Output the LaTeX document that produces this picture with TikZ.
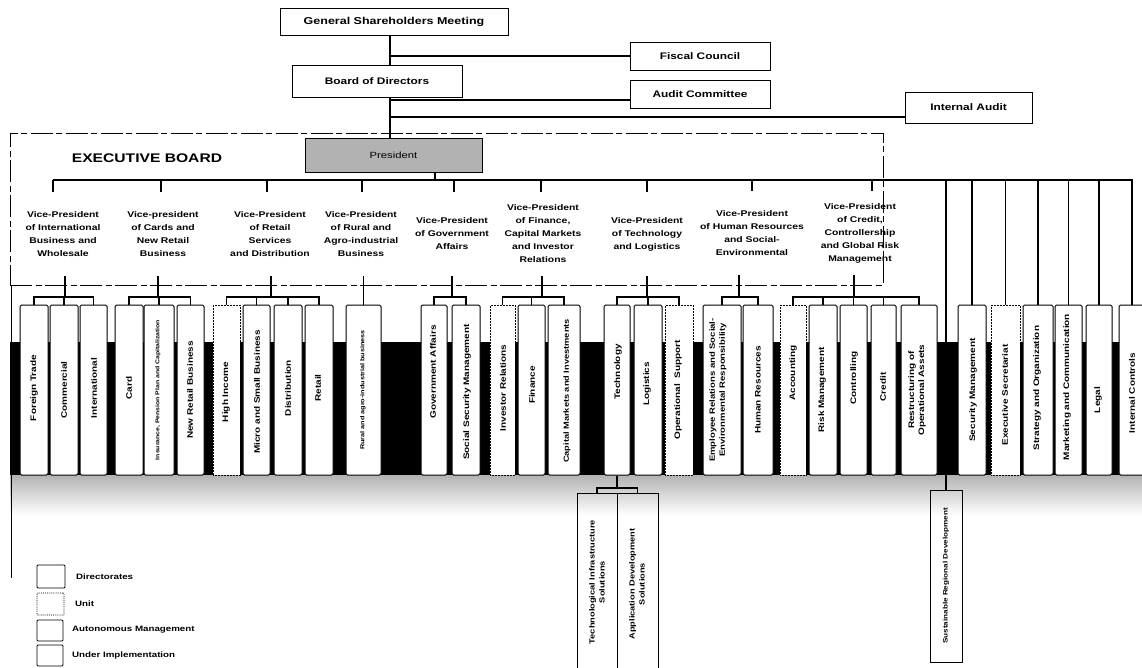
\documentclass[tikz,border=0pt]{standalone}
\usepackage{fontspec}
\setmainfont{Liberation Sans}[FakeStretch=1.25]
\begin{document}
\begin{tikzpicture}[x=1pt,y=-1pt,
  conn/.style={line width=1.2pt},
  topbox/.style={draw, line width=0.9pt, inner sep=0pt, font=\bfseries\fontsize{9.5}{11}\selectfont},
  dbox/.style={draw, line width=1pt, fill=white, rounded corners=1.5pt, minimum height=170pt, inner sep=0pt},
  ubox/.style={draw, densely dotted, line width=0.5pt, fill=white, minimum height=170pt, inner sep=0pt},
  vlbl/.style={rotate=90, font=\bfseries\fontsize{8}{10}\selectfont, align=center, inner sep=0pt},
  vptext/.style={font=\bfseries\fontsize{8.3}{13}\selectfont, align=center, minimum height=84pt, inner sep=0pt},
  legbox/.style={draw, line width=0.9pt, rounded corners=1pt, inner sep=0pt},
  legtext/.style={anchor=west, font=\bfseries\fontsize{7.8}{9}\selectfont, inner sep=0pt},
  execbox/.style={draw, dash pattern=on 22pt off 4pt on 6pt off 3pt, line width=0.8pt, inner sep=0pt}
]
\useasboundingbox (0,0) rectangle (1142,667);

% ---------- background band and scan shading ----------
\fill[black] (10,342) rectangle (1142,475);
\shade[top color=gray!60, bottom color=white] (10,475) rectangle (1142,515);

% ---------- top governance ----------
\node[topbox, minimum width=228pt, minimum height=27pt, font=\bfseries\fontsize{10}{12}\selectfont] (gsm) at (394,21.5) {General Shareholders Meeting};
\node[topbox, minimum width=140pt, minimum height=28pt] (fc) at (700,56) {Fiscal Council};
\node[topbox, minimum width=170pt, minimum height=32pt] (board) at (377,81) {Board of Directors};
\node[topbox, minimum width=140pt, minimum height=28pt] (ac) at (700,94) {Audit Committee};
\node[topbox, minimum width=127pt, minimum height=31pt] (ia) at (968.5,107.5) {Internal Audit};

% ---------- executive board ----------
\node[execbox, minimum width=873pt, minimum height=152pt] (exec) at (446.5,209) {};
\node[font=\bfseries\fontsize{12.5}{14}\selectfont, inner sep=0pt] (eb) at (147,158) {EXECUTIVE BOARD};
\node[draw, line width=0.8pt, fill=gray!60, minimum width=177pt, minimum height=34pt, inner sep=0pt, font=\fontsize{9}{11}\selectfont] (pres) at (393.5,155) {President};

\coordinate (trk) at (390,0);
\coordinate (busL) at (53,180);
\coordinate (busR) at (1132,180);

% ---------- vice-presidents ----------
\node[vptext] (vp1) at (63,234) {Vice-President\\of International\\Business and\\Wholesale};
\node[vptext] (vp2) at (163,234) {Vice-president\\of Cards and\\New Retail\\Business};
\node[vptext] (vp3) at (270,234) {Vice-President\\of Retail\\Services\\and Distribution};
\node[vptext] (vp4) at (361,234) {Vice-President\\of Rural and\\Agro-industrial\\Business};
\node[vptext] (vp5) at (452,234) {Vice-President\\of Government\\Affairs};
\node[vptext] (vp6) at (543,234) {Vice-President\\of Finance,\\Capital Markets\\and Investor\\Relations};
\node[vptext] (vp7) at (647,234) {Vice-President\\of Technology\\and Logistics};
\node[vptext] (vp8) at (752,233) {Vice-President\\of Human Resources\\and Social-\\Environmental};
\node[vptext] (vp9) at (860,233) {Vice-President\\of Credit,\\Controllership\\and Global Risk\\Management};

% ---------- directorate / unit boxes ----------
\node[dbox, minimum width=28pt] (ft) at (34,390) {};
\node[dbox, minimum width=28pt] (com) at (64,390) {};
\node[dbox, minimum width=27pt] (intl) at (93.5,390) {};
\node[dbox, minimum width=28pt] (card) at (129,390) {};
\node[dbox, minimum width=30pt] (ins) at (159,390) {};
\node[dbox, minimum width=27pt] (nrb) at (190.5,390) {};
\node[ubox, minimum width=27pt] (hi) at (226.5,390) {};
\node[dbox, minimum width=27pt] (msb) at (256.5,390) {};
\node[dbox, minimum width=28pt] (dist) at (288,390) {};
\node[dbox, minimum width=28pt] (ret) at (319,390) {};
\node[dbox, minimum width=35pt] (rur) at (363.5,390) {};
\node[dbox, minimum width=26pt] (gov) at (434,390) {};
\node[dbox, minimum width=28pt] (ssm) at (466,390) {};
\node[ubox, minimum width=25pt] (ir) at (502.5,390) {};
\node[dbox, minimum width=27pt] (fin) at (531.5,390) {};
\node[dbox, minimum width=32pt] (cap) at (564,390) {};
\node[dbox, minimum width=26pt] (tech) at (617,390) {};
\node[dbox, minimum width=28pt] (log) at (648,390) {};
\node[ubox, minimum width=28pt] (ops) at (679,390) {};
\node[dbox, minimum width=38pt] (emp) at (722,390) {};
\node[dbox, minimum width=30pt] (hr) at (758,390) {};
\node[ubox, minimum width=26pt] (acc) at (793,390) {};
\node[dbox, minimum width=28pt] (risk) at (823,390) {};
\node[dbox, minimum width=27pt] (ctrl) at (853.5,390) {};
\node[dbox, minimum width=25pt] (cred) at (883.5,390) {};
\node[dbox, minimum width=36pt] (rest) at (919,390) {};
\node[dbox, minimum width=28pt] (sec) at (972,390) {};
\node[ubox, minimum width=29pt] (exs) at (1005.5,390) {};
\node[dbox, minimum width=30pt] (strat) at (1038,390) {};
\node[dbox, minimum width=27pt] (mkt) at (1068.5,390) {};
\node[dbox, minimum width=26pt] (legal) at (1099,390) {};
\node[dbox, minimum width=26pt] (ic) at (1132,390) {};

% sub-units below
\node[draw, line width=1pt, minimum width=40pt, minimum height=177pt, inner sep=0pt] (tis) at (597,581.5) {};
\node[draw, line width=1pt, minimum width=41pt, minimum height=177pt, inner sep=0pt] (ads) at (637.5,581.5) {};
\node[draw, line width=1pt, minimum width=32pt, minimum height=172pt, inner sep=0pt] (srd) at (946,576) {};

% ---------- box labels ----------
\node[vlbl] (l-ft) at (34,388) {Foreign Trade};
\node[vlbl] (l-com) at (64,390) {Commercial};
\node[vlbl] (l-intl) at (94,388) {International};
\node[vlbl] (l-card) at (129,388) {Card};
\node[vlbl, font=\bfseries\fontsize{5.5}{6.5}\selectfont] (l-ins) at (158,390) {Insurance, Pension Plan and Capitalization};
\node[vlbl] (l-nrb) at (190,390) {New Retail Business};
\node[vlbl] (l-hi) at (226,392) {High Income};
\node[vlbl] (l-msb) at (257,392) {Micro and Small Business};
\node[vlbl] (l-dist) at (288,388) {Distribution};
\node[vlbl] (l-ret) at (318,388) {Retail};
\node[vlbl, font=\bfseries\fontsize{5.8}{7}\selectfont] (l-rur) at (363,390) {Rural and agro-industrial business};
\node[vlbl] (l-gov) at (433,372) {Government Affairs};
\node[vlbl] (l-ssm) at (467,392) {Social Security Management};
\node[vlbl] (l-ir) at (503,388) {Investor Relations};
\node[vlbl] (l-fin) at (532,385) {Finance};
\node[vlbl, font=\bfseries\fontsize{7.4}{9}\selectfont] (l-cap) at (567,391) {Capital Markets and Investments};
\node[vlbl] (l-tech) at (618,372) {Technology};
\node[vlbl] (l-log) at (647,384) {Logistics};
\node[vlbl] (l-ops) at (678,390) {Operational\ \ Support};
\node[vlbl, font=\bfseries\fontsize{7.6}{10}\selectfont] (l-emp) at (718,390) {Employee Relations and Social-\\Environmental Responsibility};
\node[vlbl] (l-hr) at (758,390) {Human Resources};
\node[vlbl] (l-acc) at (793,373) {Accounting};
\node[vlbl] (l-risk) at (822,390) {Risk Management};
\node[vlbl] (l-ctrl) at (854,378) {Controlling};
\node[vlbl] (l-cred) at (883,387) {Credit};
\node[vlbl] (l-rest) at (917,390) {Restructuring of\\Operational Assets};
\node[vlbl] (l-sec) at (973,390) {Security Management};
\node[vlbl] (l-exs) at (1005,395) {Executive Secretariat};
\node[vlbl] (l-strat) at (1037,388) {Strategy and Organization};
\node[vlbl] (l-mkt) at (1067,387) {Marketing and Communication};
\node[vlbl] (l-legal) at (1098,400) {Legal};
\node[vlbl] (l-ic) at (1132,393) {Internal Controls};
\node[vlbl, font=\bfseries\fontsize{7.4}{10}\selectfont] (l-tis) at (597,582) {Technological Infrastructure\\Solutions};
\node[vlbl, font=\bfseries\fontsize{7.4}{10}\selectfont] (l-ads) at (637,584) {Application Development\\Solutions};
\node[vlbl, font=\bfseries\fontsize{6.5}{8}\selectfont] (l-srd) at (946,576) {Sustainable Regional Development};

% ---------- connectors: governance ----------
\draw[conn] (gsm.south -| trk) -- (board.north -| trk);
\draw[conn] (board.south -| trk) -- (pres.north -| trk);
\draw[conn] (fc.west) -- (fc.west -| trk);
\draw[conn] ([yshift=-6pt]ac.west) -- ([yshift=-6pt]ac.west -| trk);
\draw[conn] ([yshift=-9.5pt]ia.west) -- ([yshift=-9.5pt]ia.west -| trk);
\draw[conn] ([xshift=41.5pt]pres.south) -- ([xshift=41.5pt]pres.south |- busL);

% bus
\draw[conn] (busL) -- (busR) -- (ic.north);
\draw[conn] (busL) -- (busL |- vp1.north);
\draw[conn] ([xshift=-2pt]vp2.north) -- ([xshift=-2pt]vp2.north |- busL);
\draw[conn] ([xshift=-3pt]vp3.north) -- ([xshift=-3pt]vp3.north |- busL);
\draw[conn] ([xshift=1pt]vp4.north) -- ([xshift=1pt]vp4.north |- busL);
\draw[conn] ([xshift=2pt]vp5.north) -- ([xshift=2pt]vp5.north |- busL);
\draw[conn] ([xshift=-2pt]vp6.north) -- ([xshift=-2pt]vp6.north |- busL);
\draw[conn] (vp7.north) -- (vp7.north |- busL);
\draw[conn] (vp8.north) -- (vp8.north |- busL);
\draw[conn] ([xshift=12pt]vp9.north) -- ([xshift=12pt]vp9.north |- busL);

% right-hand direct units
\draw[conn] (srd.north |- busL) -- (srd.north);
\draw[conn] (sec.north |- busL) -- (sec.north);
\draw[conn] (exs.north |- busL) -- (exs.north);
\draw[conn] (strat.north |- busL) -- (strat.north);
\draw[conn] (mkt.north |- busL) -- (mkt.north);
\draw[conn] (legal.north |- busL) -- (legal.north);

% ---------- connectors: VP groups ----------
\coordinate (br1) at (65,297);
\draw[conn] (vp1.south -| br1) -- (br1);
\draw[conn] (ft.north) |- (br1) -| (intl.north);
\draw[conn] (com.north) -- (com.north |- br1);

\coordinate (br2) at (158,297);
\draw[conn] (vp2.south -| br2) -- (br2);
\draw[conn] (card.north) |- (br2) -| (nrb.north);
\draw[conn] (ins.north) -- (ins.north |- br2);

\coordinate (br3) at (271,297);
\draw[conn] (vp3.south -| br3) -- (br3);
\draw[conn] (hi.north) |- (br3) -| (ret.north);
\draw[conn] (msb.north) -- (msb.north |- br3);
\draw[conn] (dist.north) -- (dist.north |- br3);

\draw[conn] (vp4.south -| rur.north) -- (rur.north);

\coordinate (br5) at (452,297);
\draw[conn] (vp5.south -| br5) -- (br5);
\draw[conn] (gov.north) |- (br5) -| (ssm.north);

\coordinate (br6) at (542,297);
\draw[conn] (vp6.south -| br6) -- (br6);
\draw[conn] (ir.north) |- (br6) -| (cap.north);
\draw[conn] (fin.north) -- (fin.north |- br6);

\coordinate (br7) at (647,297);
\draw[conn] (vp7.south -| br7) -- (br7);
\draw[conn] (tech.north) |- (br7) -| (ops.north);
\draw[conn] (log.north) -- (log.north |- br7);

\coordinate (br8) at (739,297);
\draw[conn] (vp8.south -| br8) -- (br8);
\draw[conn] (emp.north) |- (br8) -| (hr.north);

\coordinate (br9) at (854,297);
\draw[conn] (vp9.south -| br9) -- (br9);
\draw[conn] (acc.north) |- (br9) -| (rest.north);
\draw[conn] (risk.north) -- (risk.north |- br9);
\draw[conn] (ctrl.north) -- (ctrl.north |- br9);
\draw[conn] (cred.north) -- (cred.north |- br9);

% technology sub-units
\coordinate (tb) at (617,488);
\draw[conn] (tech.south) -- (tb);
\draw[conn] (tis.north) |- (tb) -| (ads.north);

% left edge line
\draw[line width=0.9pt] ([xshift=2pt]exec.south west) -- ++(0,293);

% ---------- legend ----------
\node[legbox, minimum width=28pt, minimum height=23pt] (lg1) at (51,576.5) {};
\node[legtext] (lt1) at (76,577) {Directorates};
\node[legbox, densely dotted, minimum width=27pt, minimum height=22pt] (lg2) at (50.5,604) {};
\node[legtext] (lt2) at (75,604) {Unit};
\node[legbox, minimum width=26pt, minimum height=21pt] (lg3) at (50,630.5) {};
\node[legtext] (lt3) at (72,630) {Autonomous Management};
\node[legbox, minimum width=26pt, minimum height=21pt] (lg4) at (50,655.5) {};
\node[legtext] (lt4) at (72,655) {Under Implementation};
\end{tikzpicture}
\end{document}
